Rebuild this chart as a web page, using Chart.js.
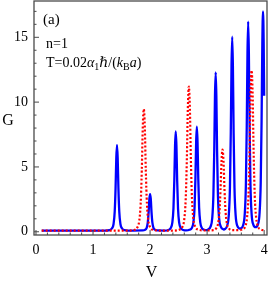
<!DOCTYPE html>
<html>
<head>
<meta charset="utf-8">
<script src="https://cdn.jsdelivr.net/npm/chart.js@4/dist/chart.umd.min.js"></script>
<style>
  html, body { margin: 0; padding: 0; background: #fff; }
  #wrap { width: 269px; height: 288px; }
</style>
</head>
<body>
<div id="wrap"><canvas id="condChart"></canvas></div>
<script>
// [V, G]
const blueCurve = [
    [0.1, 0.08], [1.2, 0.09], [1.29, 0.13], [1.33, 0.25], [1.36, 0.6], [1.38, 1.55], [1.395, 3.35],
    [1.408, 5.7], [1.42, 6.7], [1.432, 5.7], [1.445, 3.35], [1.46, 1.55], [1.48, 0.6], [1.51, 0.25],
    [1.55, 0.13], [1.7, 0.09], [1.87, 0.1], [1.91, 0.15], [1.94, 0.3], [1.96, 0.72], [1.975, 1.53],
    [1.988, 2.55], [2.0, 2.9], [2.012, 2.55], [2.025, 1.53], [2.04, 0.72], [2.06, 0.3], [2.09, 0.15],
    [2.13, 0.1], [2.25, 0.09], [2.32, 0.14], [2.36, 0.27], [2.39, 0.7], [2.41, 1.8], [2.425, 3.95],
    [2.438, 6.65], [2.45, 7.75], [2.462, 6.65], [2.475, 3.95], [2.49, 1.8], [2.51, 0.7], [2.54, 0.27],
    [2.58, 0.14], [2.635, 0.1], [2.69, 0.15], [2.73, 0.28], [2.76, 0.73], [2.78, 1.86], [2.795, 4.1],
    [2.808, 6.95], [2.82, 8.1], [2.832, 6.95], [2.845, 4.1], [2.86, 1.86], [2.88, 0.73], [2.91, 0.28],
    [2.95, 0.15], [2.985, 0.12], [3.02, 0.18], [3.06, 0.39], [3.09, 1.06], [3.11, 2.8], [3.125, 6.2],
    [3.138, 10.5], [3.15, 12.3], [3.162, 10.5], [3.175, 6.2], [3.19, 2.8], [3.21, 1.06], [3.24, 0.39],
    [3.28, 0.2], [3.295, 0.17], [3.31, 0.2], [3.35, 0.45], [3.38, 1.28], [3.40, 3.4], [3.415, 7.6],
    [3.428, 12.8], [3.44, 15.05], [3.452, 12.8], [3.465, 7.6], [3.48, 3.4], [3.50, 1.28], [3.53, 0.45],
    [3.57, 0.25], [3.58, 0.24], [3.59, 0.26], [3.63, 0.48], [3.66, 1.38], [3.68, 3.65], [3.695, 8.15],
    [3.708, 13.8], [3.72, 16.2], [3.732, 13.8], [3.745, 8.15], [3.76, 3.65], [3.78, 1.38], [3.81, 0.55],
    [3.85, 0.35], [3.89, 0.55], [3.92, 1.45], [3.94, 3.8], [3.955, 8.5], [3.968, 14.5], [3.98, 17.0],
    [3.992, 14.5], [4.0, 10.5]
];

const redCurve = [
    [0.1, 0.08], [1.6, 0.09], [1.73, 0.15], [1.775, 0.32], [1.81, 0.84], [1.835, 2.15], [1.855, 4.75],
    [1.872, 8.05], [1.89, 9.46], [1.908, 8.05], [1.925, 4.75], [1.945, 2.15], [1.97, 0.84], [2.005, 0.32],
    [2.05, 0.15], [2.2, 0.09], [2.4, 0.09], [2.52, 0.17], [2.565, 0.36], [2.6, 0.98], [2.625, 2.54],
    [2.645, 5.65], [2.662, 9.5], [2.68, 11.2], [2.698, 9.5], [2.715, 5.65], [2.735, 2.54], [2.76, 0.98],
    [2.795, 0.36], [2.84, 0.17], [2.975, 0.1], [3.11, 0.13], [3.155, 0.24], [3.19, 0.58], [3.215, 1.47],
    [3.235, 3.22], [3.252, 5.4], [3.27, 6.34], [3.288, 5.4], [3.305, 3.22], [3.325, 1.47], [3.35, 0.58],
    [3.385, 0.24], [3.43, 0.13], [3.525, 0.12], [3.62, 0.18], [3.665, 0.39], [3.70, 1.08], [3.725, 2.8],
    [3.745, 6.27], [3.762, 10.6], [3.78, 12.44], [3.798, 10.6], [3.815, 6.27], [3.835, 2.8], [3.86, 1.08],
    [3.895, 0.39], [3.94, 0.18], [4.0, 0.12]
];

const xTicks = [0, 1, 2, 3, 4];
const yTicks = [0, 5, 10, 15];

const serif = '"Liberation Serif", "DejaVu Serif", serif';

// frame, inward ticks, axis letters and the inset text
const framePlugin = {
    id: 'frame',
    afterDraw(chart) {
        const ctx = chart.ctx;
        const a = chart.chartArea;
        const xs = chart.scales.x, ys = chart.scales.y;
        ctx.save();
        ctx.strokeStyle = '#4a4a4a';
        ctx.lineWidth = 1.3;
        ctx.strokeRect(a.left, a.top, a.right - a.left, a.bottom - a.top);

        ctx.lineWidth = 1;
        ctx.beginPath();
        for (let v = 0; v <= 4.001; v += 0.2) {
            const px = xs.getPixelForValue(v);
            const major = Math.abs(v - Math.round(v)) < 1e-6;
            ctx.moveTo(px, a.bottom);
            ctx.lineTo(px, a.bottom - (major ? 5 : 2.5));
        }
        for (let v = 0; v <= 17; v += 1) {
            const py = ys.getPixelForValue(v);
            ctx.moveTo(a.left, py);
            ctx.lineTo(a.left + (v % 5 === 0 ? 5 : 2.5), py);
        }
        ctx.stroke();

        ctx.fillStyle = '#000';
        ctx.textAlign = 'center';
        ctx.textBaseline = 'middle';
        ctx.font = '16px ' + serif;
        ctx.fillText('G', 8, 121);
        ctx.fillText('V', (a.left + a.right) / 2 + 1, 273);

        ctx.textAlign = 'left';
        ctx.textBaseline = 'alphabetic';
        ctx.font = '15px ' + serif;
        ctx.fillText('(a)', 43, 24);
        ctx.font = '14px ' + serif;
        ctx.fillText('n=1', 46, 48);

        const parts = [
            ['T=0.02', '14px', 0], ['α', 'italic 14px', 0], ['1', '10px', 3],
            ['ℏ', 'italic 14px', 0], ['/(', '14px', 0], ['k', 'italic 14px', 0],
            ['B', '10px', 3], ['a', 'italic 14px', 0], [')', '14px', 0]
        ];
        let x = 46;
        parts.forEach(([t, f, dy]) => {
            ctx.font = f + ' ' + serif;
            ctx.fillText(t, x, 67 + dy);
            x += ctx.measureText(t).width;
        });
        ctx.restore();
    }
};

const ctx = document.getElementById('condChart').getContext('2d');
new Chart(ctx, {
    type: 'line',
    data: {
        datasets: [
            {
                data: redCurve.map(p => ({ x: p[0], y: p[1] })),
                borderColor: '#ff0000',
                borderWidth: 2.2,
                borderDash: [2, 2],
                pointRadius: 0,
                cubicInterpolationMode: 'monotone',
                fill: false,
                order: 0
            },
            {
                data: blueCurve.map(p => ({ x: p[0], y: p[1] })),
                borderColor: '#0000ff',
                borderWidth: 2.3,
                pointRadius: 0,
                cubicInterpolationMode: 'monotone',
                fill: false,
                order: 1
            }
        ]
    },
    options: {
        responsive: true,
        maintainAspectRatio: false,
        animation: false,
        layout: { padding: { top: 1, right: 2, left: 0, bottom: 0 } },
        plugins: {
            legend: { display: false },
            tooltip: { enabled: false }
        },
        scales: {
            x: {
                type: 'linear',
                min: -0.035,
                max: 4.05,
                afterBuildTicks: (s) => { s.ticks = xTicks.map(v => ({ value: v })); },
                afterFit: (s) => { s.height = 53; s.paddingLeft = 0; s.paddingRight = 0; },
                grid: { display: false, drawTicks: false },
                border: { display: false },
                ticks: { color: '#000', padding: 7, maxRotation: 0, font: { family: serif, size: 14 } }
            },
            y: {
                type: 'linear',
                min: -0.25,
                max: 17.8,
                afterBuildTicks: (s) => { s.ticks = yTicks.map(v => ({ value: v })); },
                afterFit: (s) => { s.width = 34; s.paddingTop = 0; s.paddingBottom = 0; },
                grid: { display: false, drawTicks: false },
                border: { display: false },
                ticks: { color: '#000', padding: 6, font: { family: serif, size: 14 } }
            }
        }
    },
    plugins: [framePlugin]
});
</script>
</body>
</html>
